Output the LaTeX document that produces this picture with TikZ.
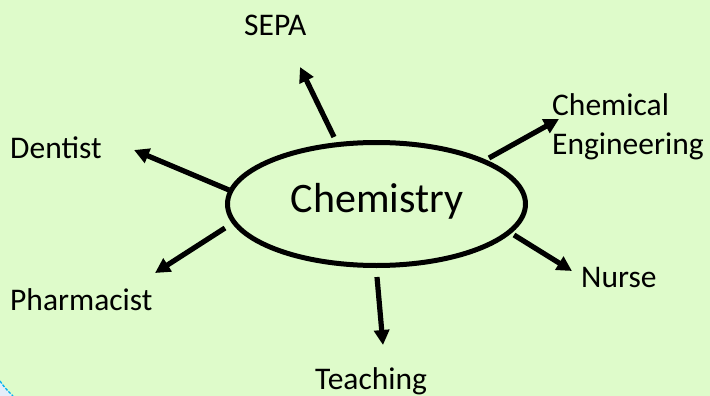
\documentclass[tikz,border=0pt]{standalone}
\usepackage{fontspec}
\setmainfont{Carlito}
\usetikzlibrary{shapes.geometric,arrows.meta}
\definecolor{bgc}{RGB}{222,251,202}
\definecolor{cornerfill}{RGB}{228,238,250}
\definecolor{cornerline}{RGB}{0,176,240}
\tikzset{
  hub/.style={ellipse, draw=black, line width=5pt, minimum width=298pt, minimum height=123pt, inner sep=0pt},
  hubtext/.style={font=\fontsize{42}{50}\selectfont, inner sep=0pt, anchor=base},
  lbl/.style={font=\fontsize{31.5}{39}\selectfont, inner sep=0pt, anchor=base west, align=left},
  link/.style={line width=5.2pt, -{Triangle[length=15pt,width=15pt]}}
}
\begin{document}
\begin{tikzpicture}[x=1pt,y=-1pt]
\fill[bgc] (0,0) rectangle (710,396);
\useasboundingbox (0,0) rectangle (710,396);
% corner fragment
\fill[cornerfill] (0,381) .. controls (5,388) .. (13,396) -- (0,396) -- cycle;
\draw[cornerline, line width=1.3pt, dash pattern=on 3pt off 1.5pt] (0,381) .. controls (5,388) .. (13,396);
% hub
\node[hub] (chem) at (376.5,204) {};
\node[hubtext] (chemtxt) at (377,212) {Chemistry};
% labels
\node[lbl] (sepa) at (244,36) {SEPA};
\node[lbl] (chemeng1) at (552,115) {Chemical};
\node[lbl] (chemeng2) at (552,154) {Engineering};
\node[lbl] (dentist) at (10,158) {Dentist};
\node[lbl] (pharm) at (10,310) {Pharmacist};
\node[lbl] (nurse) at (581,287) {Nurse};
\node[lbl] (teach) at (315,389) {Teaching};
% connector ends
\coordinate (tSEPA) at (334,137);   \coordinate (hSEPA) at (300,67);
\coordinate (tCE) at (489,158);     \coordinate (hCE) at (559,119);
\coordinate (tDen) at (229,190);    \coordinate (hDen) at (134,150);
\coordinate (tPh) at (225,228);     \coordinate (hPh) at (155,273);
\coordinate (tNu) at (514,235);     \coordinate (hNu) at (572,271);
\coordinate (tTe) at (377,277);     \coordinate (hTe) at (383,345);
\draw[link] (tSEPA) -- (hSEPA);
\draw[link] (tCE) -- (hCE);
\draw[link] (tDen) -- (hDen);
\draw[link] (tPh) -- (hPh);
\draw[link] (tNu) -- (hNu);
\draw[link] (tTe) -- (hTe);
\end{tikzpicture}
\end{document}
